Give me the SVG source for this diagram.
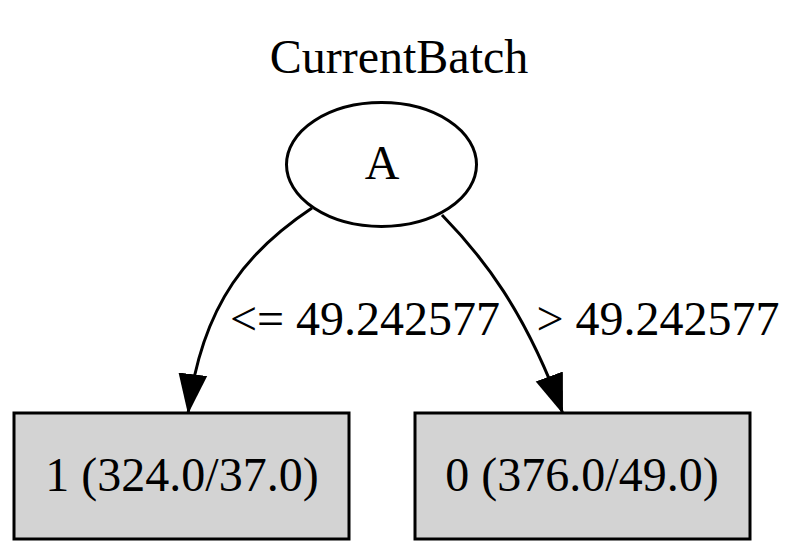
<svg xmlns="http://www.w3.org/2000/svg" width="800" height="554" viewBox="0 0 800 554">
<style>
text{font-family:"Liberation Serif","Times New Roman",serif;font-size:48px;fill:#000;text-anchor:middle}
.node{fill:#d3d3d3;stroke:#000;stroke-width:3}
.edge{fill:none;stroke:#000;stroke-width:3}
</style>
<defs>
<marker id="arr" markerUnits="userSpaceOnUse" markerWidth="40" markerHeight="40" viewBox="0 0 36 26" refX="36" refY="13" orient="auto">
<path d="M0,0 L36,13 L0,26 Z" fill="#000"/>
</marker>
</defs>
<rect width="800" height="554" fill="#fff"/>
<text x="399" y="73">CurrentBatch</text>
<g id="connectors">
<path class="edge" d="M312,208 C252,248 202,300 188,414" marker-end="url(#arr)"/>
<path class="edge" d="M442,215 C482,256 525,310 563,414" marker-end="url(#arr)"/>
<text x="365" y="335" style="text-anchor:middle">&lt;= 49.242577</text>
<text x="658" y="335">&gt; 49.242577</text>
</g>
<g id="nodeA">
<ellipse cx="381.5" cy="164.5" rx="95" ry="62" fill="#fff" stroke="#000" stroke-width="3"/>
<text x="382" y="179">A</text>
</g>
<g id="node1">
<rect class="node" x="14" y="413" width="335" height="126"/>
<text x="182" y="491">1 (324.0/37.0)</text>
</g>
<g id="node0">
<rect class="node" x="415" y="413" width="335" height="126"/>
<text x="582" y="491">0 (376.0/49.0)</text>
</g>
</svg>
